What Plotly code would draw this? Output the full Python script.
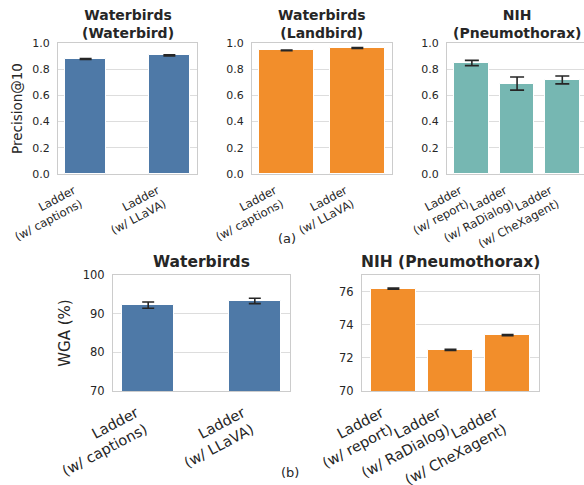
import plotly.graph_objects as go

# ---- data ----
wb_cats = ["Ladder<br>(w/ captions)", "Ladder<br>(w/ LLaVA)"]
nih_cats = ["Ladder<br>(w/ report)", "Ladder<br>(w/ RaDialog)", "Ladder<br>(w/ CheXagent)"]

p10_waterbird = [0.878, 0.905]
p10_waterbird_err = [0.004, 0.004]
p10_landbird = [0.944, 0.962]
p10_landbird_err = [0.003, 0.003]
p10_nih = [0.847, 0.690, 0.718]
p10_nih_err = [0.020, 0.050, 0.030]

wga_waterbirds = [92.2, 93.3]
wga_waterbirds_err = [0.8, 0.7]
wga_nih = [76.18, 72.48, 73.37]
wga_nih_err = [0.03, 0.03, 0.03]

BLUE = "#4E79A7"
ORANGE = "#F28E2B"
TEAL = "#76B7B2"
TXT = "#262626"
FONT = "DejaVu Sans"
W, H = 584, 485


def px_x(a, b):
    return [a / W, min(b / W, 1.0)]


def px_y(top, bottom):
    return [1 - bottom / H, 1 - top / H]


fig = go.Figure()


def add_bars(cats, vals, errs, color, idx, width, capw):
    sx = "" if idx == 1 else str(idx)
    fig.add_trace(go.Bar(
        x=list(range(len(cats))), y=vals, width=width,
        marker=dict(color=color, line=dict(color="white", width=1)),
        error_y=dict(type="data", array=errs, visible=True, color="#262626",
                     thickness=1.6, width=capw),
        xaxis=f"x{sx}", yaxis=f"y{sx}",
        showlegend=False,
    ))
    # transparent companion on the label axis so its category labels render
    fig.add_trace(go.Scatter(
        x=list(range(len(cats))), y=vals, mode="markers",
        marker=dict(opacity=0), hoverinfo="skip",
        xaxis=f"x{idx + 5}", yaxis=f"y{sx}", showlegend=False,
    ))


add_bars(wb_cats, p10_waterbird, p10_waterbird_err, BLUE, 1, 0.49, 6)
add_bars(wb_cats, p10_landbird, p10_landbird_err, ORANGE, 2, 0.78, 6)
add_bars(nih_cats, p10_nih, p10_nih_err, TEAL, 3, 0.77, 7)
add_bars(wb_cats, wga_waterbirds, wga_waterbirds_err, BLUE, 4, 0.49, 6)
add_bars(nih_cats, wga_nih, wga_nih_err, ORANGE, 5, 0.78, 6)

frame = dict(showline=True, mirror=True, linecolor="#cccccc", linewidth=1.2,
             zeroline=False, ticks="", color=TXT, automargin=False)


def xax(dom, anchor, rng):
    # frame-only x axis; category labels come from the companion label axis
    return dict(domain=dom, anchor=anchor, range=rng, showgrid=False,
                showticklabels=False, **frame)


def label_ax(dom, anchor, over, rng, cats, size, shift_px, standoff):
    # category labels, set slightly left of each bar so the rotated text ends under it
    span = rng[1] - rng[0]
    width_px = (dom[1] - dom[0]) * W
    d = shift_px * span / width_px
    return dict(domain=dom, anchor=anchor, overlaying=over, side="bottom",
                range=[rng[0] + d, rng[1] + d], tickmode="array",
                tickvals=list(range(len(cats))), ticktext=cats,
                showgrid=False, showline=False, zeroline=False, ticks="",
                tickangle=-28, ticklabelstandoff=standoff, automargin=False,
                tickfont=dict(family=FONT, size=size, color=TXT))


def yax(dom, anchor, rng, dtick, fmt, size):
    return dict(domain=dom, anchor=anchor, range=rng, dtick=dtick, tickformat=fmt,
                showgrid=True, gridcolor="#dddddd", gridwidth=1.2,
                tickfont=dict(family=FONT, size=size, color=TXT),
                ticklabelstandoff=5, **frame)


top = px_y(43, 174)
bot = px_y(275, 391)

panels = [
    # (x domain, x range, categories, tick font size, label standoff)
    (px_x(58, 197), [-0.33, 1.33], wb_cats, 11.5, 7),
    (px_x(252, 392), [-0.49, 1.49], wb_cats, 11.5, 7),
    (px_x(447, 584), [-0.55, 2.48], nih_cats, 11.5, 7),
    (px_x(113, 290), [-0.33, 1.33], wb_cats, 14.5, 10),
    (px_x(362, 539), [-0.55, 2.55], nih_cats, 14.5, 10),
]

layout = dict(
    width=W, height=H,
    margin=dict(l=0, r=0, t=0, b=0),
    paper_bgcolor="white", plot_bgcolor="white",
    bargap=0,
)
for i, (xd, xr, cats, fs, so) in enumerate(panels, start=1):
    sx = "" if i == 1 else str(i)
    layout[f"xaxis{sx}"] = xax(xd, f"y{sx}", xr)
    layout[f"xaxis{i + 5}"] = label_ax(xd, f"y{sx}", f"x{sx}", xr, cats, fs, 12, so)

layout["yaxis"] = yax(top, "x", [0, 1.0], 0.2, ".1f", 11)
layout["yaxis2"] = yax(top, "x2", [0, 1.0], 0.2, ".1f", 11)
layout["yaxis3"] = yax(top, "x3", [0, 1.0], 0.2, ".1f", 11)
layout["yaxis4"] = yax(bot, "x4", [70, 100], 10, "d", 11.5)
layout["yaxis5"] = yax(bot, "x5", [70, 77], 2, "d", 11.5)

fig.update_layout(**layout)

fig.layout.yaxis.title = dict(text="Precision@10", font=dict(family=FONT, size=13.5, color=TXT), standoff=6)
fig.layout.yaxis4.title = dict(text="WGA (%)", font=dict(family=FONT, size=15, color=TXT), standoff=8)

titles = [
    ("<b>Waterbirds</b><br><b>(Waterbird)</b>", 127.5, 23.5, 14),
    ("<b>Waterbirds</b><br><b>(Landbird)</b>", 322, 23.5, 14),
    ("<b>NIH</b><br><b>(Pneumothorax)</b>", 517, 23.5, 14),
    ("<b>Waterbirds</b>", 201.5, 262, 15.5),
    ("<b>NIH (Pneumothorax)</b>", 450.5, 262, 15.5),
]
for text, x, y, size in titles:
    fig.add_annotation(text=text, x=x / W, y=1 - y / H, xref="paper", yref="paper",
                       xanchor="center", yanchor="middle", showarrow=False,
                       font=dict(family=FONT, size=size, color=TXT))

for text, x, y in [("(a)", 287, 238), ("(b)", 290, 472)]:
    fig.add_annotation(text=text, x=x / W, y=1 - y / H, xref="paper", yref="paper",
                       xanchor="center", yanchor="middle", showarrow=False,
                       font=dict(family=FONT, size=13, color=TXT))

fig.write_html("out.html")
